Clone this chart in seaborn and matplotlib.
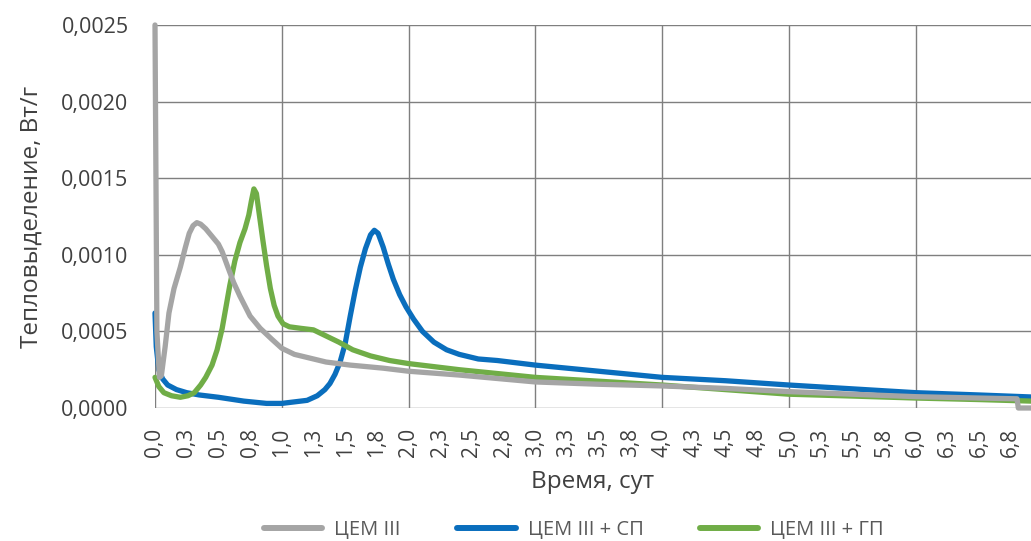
import matplotlib
matplotlib.use("Agg")
import matplotlib.pyplot as plt
from matplotlib.ticker import FixedLocator, MultipleLocator, FuncFormatter
import pandas as pd
import seaborn as sns

# ЦЕМ III
cem_x = [0.0, 0.015, 0.035, 0.05, 0.08, 0.11, 0.15, 0.2, 0.24, 0.27, 0.3, 0.33,
         0.36, 0.4, 0.45, 0.5, 0.53, 0.57, 0.62, 0.67, 0.75, 0.83, 0.92, 1.0,
         1.1, 1.2, 1.35, 1.54, 1.8, 2.0, 2.4, 3.0, 3.5, 4.0, 4.5, 5.0, 5.5,
         6.0, 6.5, 6.8, 6.81, 6.91]
cem_y = [0.0025, 0.0005, 0.0002, 0.00021, 0.0004, 0.00062, 0.00078, 0.00092,
         0.00105, 0.00114, 0.00119, 0.00121, 0.0012, 0.00117, 0.00112, 0.00107,
         0.00102, 0.00093, 0.00082, 0.00073, 0.0006, 0.00052, 0.00045, 0.00039,
         0.00035, 0.00033, 0.0003, 0.00028, 0.00026, 0.00024, 0.000215, 0.00017,
         0.000155, 0.000144, 0.000128, 0.000107, 0.00009, 0.000074, 0.000065,
         0.00006, 0.0, 0.0]

# ЦЕМ III + СП
sp_x = [0.0, 0.01, 0.03, 0.06, 0.1, 0.17, 0.25, 0.35, 0.5, 0.7, 0.88, 1.0,
        1.1, 1.2, 1.28, 1.34, 1.38, 1.42, 1.46, 1.5, 1.54, 1.58, 1.62, 1.66,
        1.7, 1.73, 1.76, 1.8, 1.84, 1.88, 1.93, 1.98, 2.04, 2.11, 2.2, 2.3,
        2.4, 2.55, 2.7, 3.0, 3.5, 4.0, 4.5, 5.0, 5.5, 6.0, 6.5, 6.91]
sp_y = [0.00062, 0.0004, 0.00025, 0.00019, 0.00015, 0.00012, 0.0001, 0.000085,
        0.00007, 0.000045, 0.00003, 0.00003, 0.00004, 0.00005, 0.00008, 0.00012,
        0.00016, 0.00022, 0.0003, 0.00042, 0.0006, 0.00077, 0.00092, 0.00104,
        0.00113, 0.00116, 0.00114, 0.00105, 0.00094, 0.00084, 0.00074, 0.00066,
        0.00058, 0.0005, 0.00043, 0.00038, 0.00035, 0.00032, 0.00031, 0.00028,
        0.00024, 0.0002, 0.000178, 0.00015, 0.000125, 0.0001, 0.000085, 0.000072]

# ЦЕМ III + ГП
gp_x = [0.0, 0.03, 0.07, 0.13, 0.2, 0.26, 0.31, 0.36, 0.4, 0.45, 0.49, 0.53,
        0.56, 0.59, 0.63, 0.67, 0.71, 0.74, 0.76, 0.78, 0.8, 0.82, 0.85, 0.88,
        0.91, 0.94, 0.97, 1.01, 1.06, 1.15, 1.25, 1.35, 1.45, 1.56, 1.7, 1.85,
        2.0, 2.4, 3.0, 3.5, 4.0, 4.5, 5.0, 5.5, 6.0, 6.5, 6.91]
gp_y = [0.0002, 0.00014, 0.0001, 0.00008, 0.00007, 0.00008, 0.0001, 0.00015,
        0.0002, 0.00028, 0.00038, 0.00052, 0.00066, 0.0008, 0.00096, 0.00108,
        0.00117, 0.00126, 0.00135, 0.00143, 0.0014, 0.00128, 0.0011, 0.00093,
        0.00078, 0.00067, 0.0006, 0.00055, 0.00053, 0.00052, 0.00051, 0.00047,
        0.00043, 0.00038, 0.00034, 0.00031, 0.00029, 0.00025, 0.0002, 0.000175,
        0.00015, 0.00012, 0.00009, 0.000078, 0.000065, 0.000055, 0.000045]

series_names = ["ЦЕМ III", "ЦЕМ III + СП", "ЦЕМ III + ГП"]
colors = {"ЦЕМ III": "#A5A5A5", "ЦЕМ III + СП": "#0A6EBD", "ЦЕМ III + ГП": "#70AD47"}
draw_order = ["ЦЕМ III + СП", "ЦЕМ III + ГП", "ЦЕМ III"]  # grey ends up on top

x_tick_labels = ["0,0", "0,3", "0,5", "0,8", "1,0", "1,3", "1,5", "1,8",
                 "2,0", "2,3", "2,5", "2,8", "3,0", "3,3", "3,5", "3,8",
                 "4,0", "4,3", "4,5", "4,8", "5,0", "5,3", "5,5", "5,8",
                 "6,0", "6,3", "6,5", "6,8"]

frames = []
for name, xs, ys in zip(series_names, [cem_x, sp_x, gp_x], [cem_y, sp_y, gp_y]):
    frames.append(pd.DataFrame({"t": xs, "q": ys, "series": name}))
df = pd.concat(frames, ignore_index=True)

sns.set_theme(style="white")
plt.rcParams["font.family"] = ["Open Sans", "DejaVu Sans"]

fig, ax = plt.subplots(figsize=(10.31, 5.41), dpi=100)
fig.subplots_adjust(left=155 / 1031, right=1.0, top=1 - 25 / 541, bottom=1 - 408 / 541)

sns.lineplot(data=df, x="t", y="q", hue="series", hue_order=draw_order,
             palette=colors, estimator=None, sort=False, linewidth=3.8,
             legend=False, ax=ax, zorder=3, clip_on=False)

ax.set_xlim(0, 6.91)
ax.set_ylim(0, 0.0025)

ax.xaxis.remove_overlapping_locs = False
ax.xaxis.set_major_locator(FixedLocator([i * 0.25 for i in range(len(x_tick_labels))]))
ax.set_xticklabels(x_tick_labels, rotation=90)
ax.xaxis.set_minor_locator(MultipleLocator(1))
ax.yaxis.set_major_locator(MultipleLocator(0.0005))
ax.yaxis.set_major_formatter(FuncFormatter(lambda v, p: f"{v:.4f}".replace(".", ",")))

ax.grid(False)
ax.grid(True, which="minor", axis="x", color="#7f7f7f", linewidth=1.0)
ax.grid(True, which="major", axis="y", color="#7f7f7f", linewidth=1.0)
for s in ax.spines.values():
    s.set_visible(False)

ax.tick_params(axis="both", which="both", length=0, colors="#404040")
ax.tick_params(axis="y", pad=19, labelsize=15.5)
ax.tick_params(axis="x", pad=14, labelsize=15)

ax.set_xlabel("Время, сут", fontsize=17.5, color="#404040")
ax.set_ylabel("Тепловыделение, Вт/г", fontsize=17.5, color="#404040")
ax.xaxis.set_label_coords(0.5, -(470 - 408) / 383)
ax.yaxis.set_label_coords(-(155 - 44) / 876, 0.5)

handles = [plt.Line2D([], [], color=colors[n], linewidth=4.3, solid_capstyle="round")
           for n in series_names]
fig.legend(handles, series_names, loc="center", bbox_to_anchor=(574 / 1031, 1 - 530 / 541),
           ncol=3, frameon=False, fontsize=14.5, handlelength=2.9, handletextpad=0.6,
           columnspacing=2.8, labelcolor="#595959", borderaxespad=0, borderpad=0)

fig.savefig("out.png", dpi=100)
